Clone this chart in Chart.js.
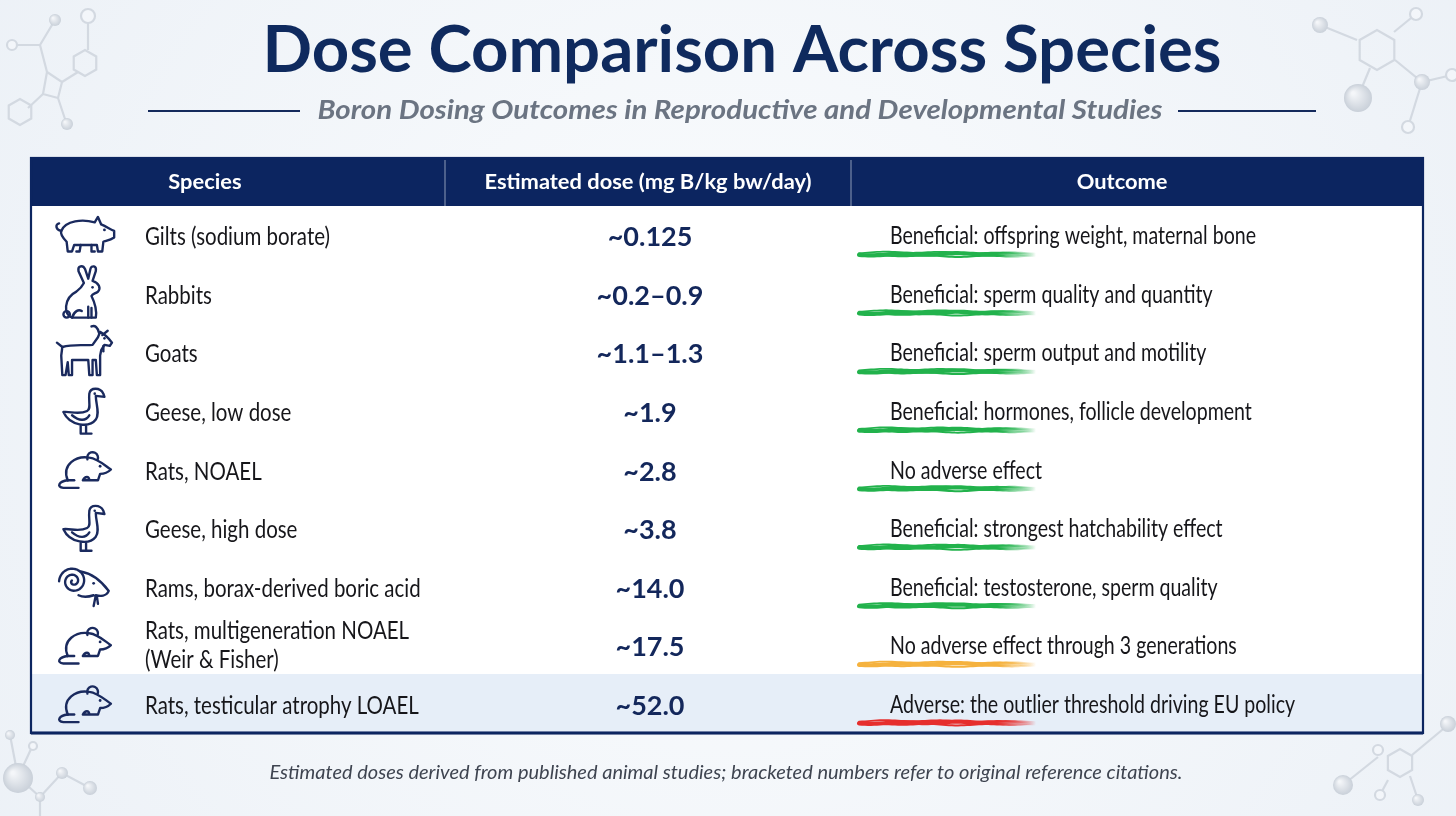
<!DOCTYPE html>
<html><head><meta charset="utf-8">
<script src="https://cdn.jsdelivr.net/npm/chart.js@4.4.1/dist/chart.umd.min.js"></script>
<style>html,body{margin:0;padding:0;background:#f3f6fa;overflow:hidden}canvas{display:block}</style>
</head><body>
<canvas id="c" width="1456" height="816"></canvas>
<script>
// ---------- DATA ----------
const title = "Dose Comparison Across Species";
const subtitle = "Boron Dosing Outcomes in Reproductive and Developmental Studies";
const footnote = "Estimated doses derived from published animal studies; bracketed numbers refer to original reference citations.";
const columnHeaders = ["Species", "Estimated dose (mg B/kg bw/day)", "Outcome"];
const species = [
  "Gilts (sodium borate)",
  "Rabbits",
  "Goats",
  "Geese, low dose",
  "Rats, NOAEL",
  "Geese, high dose",
  "Rams, borax-derived boric acid",
  ["Rats, multigeneration NOAEL", "(Weir & Fisher)"],
  "Rats, testicular atrophy LOAEL"
];
const animalIcons = ["pig", "rabbit", "goat", "goose", "rat", "goose", "ram", "rat", "rat"];
const doses = ["~0.125", "~0.2\u20130.9", "~1.1\u20131.3", "~1.9", "~2.8", "~3.8", "~14.0", "~17.5", "~52.0"];
const outcomes = [
  "Beneficial: offspring weight, maternal bone",
  "Beneficial: sperm quality and quantity",
  "Beneficial: sperm output and motility",
  "Beneficial: hormones, follicle development",
  "No adverse effect",
  "Beneficial: strongest hatchability effect",
  "Beneficial: testosterone, sperm quality",
  "No adverse effect through 3 generations",
  "Adverse: the outlier threshold driving EU policy"
];
const outcomeClass = ["beneficial", "beneficial", "beneficial", "beneficial", "none", "beneficial", "beneficial", "caution", "adverse"];

// ---------- LAYOUT / STYLE ----------
const TABLE_W = 1392;
const COL_EDGES = [0, 414, 820, TABLE_W];
const HEADER_H = 48;
const NAVY = '#0c2560';
const INK = '#16161a';
const ICON_INK = '#1a2a5e';
const CLASS_COLOR = { beneficial: '#22b24c', none: '#22b24c', caution: '#f5b23e', adverse: '#e62e2d' };
const FONT = 'Lato, "Noto Sans", sans-serif';

function hexToRgba(h, a) {
  const n = parseInt(h.slice(1), 16);
  return `rgba(${(n >> 16) & 255},${(n >> 8) & 255},${n & 255},${a})`;
}
function fitText(ctx, text, x, y, font, color, sx, align) {
  ctx.save();
  ctx.font = font; ctx.fillStyle = color; ctx.textBaseline = 'alphabetic'; ctx.textAlign = 'left';
  const w = ctx.measureText(text).width * sx;
  const left = align === 'center' ? x - w / 2 : (align === 'right' ? x - w : x);
  ctx.translate(left, y); ctx.scale(sx, 1);
  ctx.fillText(text, 0, 0);
  ctx.restore();
}
function factorFor(ctx, font, text, target) {
  ctx.save(); ctx.font = font; const w = ctx.measureText(text).width; ctx.restore();
  return target / w;
}

// ---------- decorative molecules ----------
function ball(ctx, x, y, r) {
  const g = ctx.createRadialGradient(x - r * 0.35, y - r * 0.35, r * 0.1, x, y, r);
  g.addColorStop(0, '#f4f6f9'); g.addColorStop(1, '#c9d0d9');
  ctx.fillStyle = g; ctx.beginPath(); ctx.arc(x, y, r, 0, Math.PI * 2); ctx.fill();
}
function ring(ctx, x, y, r) {
  ctx.fillStyle = '#f3f6fa'; ctx.beginPath(); ctx.arc(x, y, r, 0, Math.PI * 2); ctx.fill(); ctx.stroke();
}
function bonds(ctx, pts) {
  ctx.beginPath(); ctx.moveTo(pts[0][0], pts[0][1]);
  for (let i = 1; i < pts.length; i++) ctx.lineTo(pts[i][0], pts[i][1]);
  ctx.stroke();
}
function hex(ctx, cx, cy, r, rot) {
  ctx.beginPath();
  for (let i = 0; i < 6; i++) {
    const a = rot + i * Math.PI / 3;
    const px = cx + r * Math.cos(a), py = cy + r * Math.sin(a);
    i ? ctx.lineTo(px, py) : ctx.moveTo(px, py);
  }
  ctx.closePath(); ctx.stroke();
}
function drawMolecules(ctx) {
  ctx.save();
  ctx.strokeStyle = '#d3d9e1'; ctx.lineWidth = 2.2;
  // top-left
  bonds(ctx, [[12, 45], [40, 45], [55, 20]]);
  bonds(ctx, [[40, 45], [47, 72], [62, 82], [58, 98], [43, 94], [47, 72]]);
  bonds(ctx, [[62, 82], [78, 72]]);
  bonds(ctx, [[58, 98], [66, 122]]);
  bonds(ctx, [[43, 94], [28, 108]]);
  bonds(ctx, [[88, 18], [88, 50]]);
  hex(ctx, 85, 63, 13, Math.PI / 2);
  hex(ctx, 20, 112, 13, Math.PI / 2);
  ring(ctx, 12, 45, 5); ball(ctx, 55, 20, 6); ring(ctx, 88, 16, 7); ball(ctx, 67, 124, 6);
  // top-right
  bonds(ctx, [[1320, 25], [1357, 40]]);
  hex(ctx, 1377, 50, 20, Math.PI / 6);
  bonds(ctx, [[1394, 32], [1416, 14]]);
  bonds(ctx, [[1395, 60], [1422, 82], [1452, 75]]);
  bonds(ctx, [[1422, 82], [1408, 127]]);
  bonds(ctx, [[1370, 68], [1358, 97]]);
  ball(ctx, 1320, 25, 8); ring(ctx, 1416, 14, 6); ball(ctx, 1422, 82, 8); ring(ctx, 1408, 127, 6); ring(ctx, 1452, 75, 6);
  ball(ctx, 1358, 98, 14);
  // bottom-left
  bonds(ctx, [[10, 735], [18, 777], [32, 747]]);
  bonds(ctx, [[18, 777], [40, 797], [62, 773], [90, 788]]);
  bonds(ctx, [[40, 797], [40, 816]]);
  ball(ctx, 10, 735, 5); ring(ctx, 33, 746, 4); ball(ctx, 18, 778, 15); ball(ctx, 62, 773, 6); ball(ctx, 40, 797, 5); ball(ctx, 90, 788, 7);
  // bottom-right
  bonds(ctx, [[1343, 785], [1378, 757]]);
  hex(ctx, 1400, 763, 14, Math.PI / 6);
  bonds(ctx, [[1412, 755], [1448, 725]]);
  bonds(ctx, [[1410, 776], [1418, 800]]);
  bonds(ctx, [[1388, 780], [1380, 795]]);
  ball(ctx, 1343, 785, 10); ring(ctx, 1378, 750, 5); ball(ctx, 1448, 724, 8); ball(ctx, 1418, 800, 6); ring(ctx, 1380, 795, 5);
  ctx.restore();
}

// ---------- icons ----------
function drawIcon(ctx, kind, cx, cy) {
  ctx.save();
  ctx.translate(cx, cy);
  ctx.scale(1.08, 1.08);
  ctx.strokeStyle = ICON_INK; ctx.fillStyle = ICON_INK;
  ctx.lineWidth = 2.2; ctx.lineJoin = 'round'; ctx.lineCap = 'round';
  const P = () => ctx.beginPath();
  const dot = (x, y, r) => { P(); ctx.arc(x, y, r, 0, Math.PI * 2); ctx.fill(); };
  if (kind === 'pig') {
    P();
    ctx.moveTo(-22, -4);
    ctx.bezierCurveTo(-18, -14, -2, -15, 9, -12);
    ctx.lineTo(12, -17); ctx.lineTo(15, -10);
    ctx.bezierCurveTo(20, -8, 24, -5, 27, -4);
    ctx.lineTo(27, 2);
    ctx.bezierCurveTo(24, 4, 20, 5, 17, 6);
    ctx.lineTo(16, 15); ctx.lineTo(12, 15); ctx.lineTo(11, 9);
    ctx.lineTo(-10, 9);
    ctx.lineTo(-12, 15); ctx.lineTo(-16, 15); ctx.lineTo(-17, 6);
    ctx.bezierCurveTo(-21, 2, -23, -1, -22, -4);
    ctx.stroke();
    P(); ctx.moveTo(-22, -4); ctx.bezierCurveTo(-27, -5, -28, -10, -24, -11); ctx.stroke();
    P(); ctx.moveTo(6, 9); ctx.lineTo(6, 15); ctx.lineTo(9, 15); ctx.stroke();
    P(); ctx.moveTo(-4, 9); ctx.lineTo(-5, 15); ctx.lineTo(-8, 15); ctx.stroke();
    dot(18, -5, 1.3);
  } else if (kind === 'rabbit') {
    P();
    ctx.moveTo(-12, 22);
    ctx.bezierCurveTo(-20, 20, -20, 4, -8, -2);
    ctx.bezierCurveTo(-4, -5, -2, -8, -1, -10);
    ctx.lineTo(-6, -21); ctx.bezierCurveTo(-7, -26, -2, -27, 0, -23); ctx.lineTo(3, -14);
    ctx.lineTo(5, -23); ctx.bezierCurveTo(6, -27, 11, -26, 10, -21); ctx.lineTo(7, -12);
    ctx.bezierCurveTo(13, -10, 15, -5, 12, -2);
    ctx.bezierCurveTo(9, 0, 7, 0, 6, 2);
    ctx.bezierCurveTo(9, 8, 11, 16, 10, 22);
    ctx.lineTo(-12, 22);
    ctx.stroke();
    P(); ctx.moveTo(3, 12); ctx.lineTo(3, 22); ctx.moveTo(6, 13); ctx.lineTo(6, 22); ctx.stroke();
    P(); ctx.moveTo(-12, 22); ctx.bezierCurveTo(-10, 16, -6, 14, -3, 16); ctx.stroke();
    P(); ctx.arc(-17, 19, 3, 0, Math.PI * 2); ctx.stroke();
    dot(7, -6, 1.2);
  } else if (kind === 'goat') {
    P();
    ctx.moveTo(-21, -5);
    ctx.bezierCurveTo(-10, -8, 0, -6, 7, -7);
    ctx.lineTo(12, -14);
    ctx.lineTo(14, -19);
    ctx.bezierCurveTo(18, -17, 22, -13, 25, -9);
    ctx.lineTo(23, -6);
    ctx.lineTo(18, -7);
    ctx.lineTo(15, -2);
    ctx.lineTo(14, 3);
    ctx.lineTo(14, 21); ctx.lineTo(11, 21); ctx.lineTo(10, 7);
    ctx.lineTo(7, 7); ctx.lineTo(7, 21); ctx.lineTo(4, 21); ctx.lineTo(3, 7);
    ctx.lineTo(-12, 7);
    ctx.lineTo(-12, 21); ctx.lineTo(-15, 21); ctx.lineTo(-16, 9);
    ctx.lineTo(-18, 21); ctx.lineTo(-21, 21); ctx.lineTo(-22, 3);
    ctx.closePath();
    ctx.stroke();
    P(); ctx.moveTo(-21, -5); ctx.lineTo(-26, -9); ctx.stroke();
    P(); ctx.moveTo(13, -18); ctx.quadraticCurveTo(11, -26, 6, -24); ctx.stroke();
    P(); ctx.moveTo(16, -16); ctx.lineTo(21, -20); ctx.stroke();
    P(); ctx.moveTo(17, -6); ctx.lineTo(17, -1); ctx.stroke();
    dot(18, -13, 1.2);
  } else if (kind === 'goose') {
    P();
    ctx.moveTo(-20, 1);
    ctx.bezierCurveTo(-14, 14, 4, 16, 10, 8);
    ctx.bezierCurveTo(14, 2, 10, -6, 10, -14);
    ctx.lineTo(18, -13); ctx.lineTo(17, -16);
    ctx.bezierCurveTo(14, -22, 5, -22, 4, -16);
    ctx.bezierCurveTo(3, -8, 6, -2, 2, 0);
    ctx.bezierCurveTo(-6, 4, -14, 0, -20, 1);
    ctx.stroke();
    P(); ctx.moveTo(-12, 4); ctx.bezierCurveTo(-5, 10, 1, 9, 4, 4); ctx.stroke();
    P(); ctx.moveTo(1, 14); ctx.lineTo(1, 21); ctx.lineTo(6, 21); ctx.moveTo(-4, 14); ctx.lineTo(-4, 21); ctx.lineTo(0, 21); ctx.stroke();
    dot(9, -16, 1.2);
  } else if (kind === 'rat') {
    P();
    ctx.moveTo(-16, 10);
    ctx.bezierCurveTo(-22, -5, -8, -13, 4, -11);
    ctx.bezierCurveTo(12, -10, 18, -4, 24, 0);
    ctx.bezierCurveTo(20, 4, 16, 4, 14, 4);
    ctx.lineTo(12, 10); ctx.lineTo(8, 10);
    ctx.lineTo(-2, 10);
    ctx.bezierCurveTo(0, 6, 4, 6, 4, 10);
    ctx.stroke();
    P(); ctx.moveTo(-16, 10); ctx.lineTo(-10, 10); ctx.stroke();
    P(); ctx.moveTo(-16, 10); ctx.bezierCurveTo(-24, 11, -27, 16, -20, 17); ctx.lineTo(-6, 17); ctx.stroke();
    P(); ctx.arc(7, -11, 5, Math.PI * 0.9, Math.PI * 2.1); ctx.stroke();
    dot(14, -3, 1.3);
  } else if (kind === 'ram') {
    P();
    let first = true;
    for (let t = 0; t <= Math.PI * 4.2; t += 0.15) {
      const r = 13 - t * 0.9;
      const x = -11 + r * Math.cos(t + Math.PI), y = -5 + r * Math.sin(t + Math.PI);
      first ? ctx.moveTo(x, y) : ctx.lineTo(x, y); first = false;
    }
    ctx.stroke();
    P();
    ctx.moveTo(-4, -14);
    ctx.bezierCurveTo(8, -12, 16, -4, 22, 4);
    ctx.bezierCurveTo(20, 9, 14, 9, 10, 8);
    ctx.lineTo(8, 18);
    ctx.moveTo(11, 9); ctx.lineTo(12, 16);
    ctx.moveTo(8, 8); ctx.bezierCurveTo(2, 10, -2, 10, -6, 8);
    ctx.stroke();
    dot(8, -3, 1.3);
  }
  ctx.restore();
}

function brush(ctx, x0, x1, y, color) {
  ctx.save();
  const g = ctx.createLinearGradient(x0, 0, x1, 0);
  g.addColorStop(0, color); g.addColorStop(0.78, color); g.addColorStop(1, hexToRgba(color, 0));
  ctx.strokeStyle = g; ctx.lineCap = 'round';
  const passes = [[0, 4.2, 0], [-1.6, 1.8, 1.7], [1.6, 2, 3.1]];
  for (const [dy, w, ph] of passes) {
    ctx.lineWidth = w; ctx.beginPath();
    for (let x = x0; x <= x1; x += 3) {
      const yy = y + dy + Math.sin(x * 0.11 + ph) * 0.6 + Math.sin(x * 0.031 + ph) * 0.5;
      x === x0 ? ctx.moveTo(x, yy) : ctx.lineTo(x, yy);
    }
    ctx.stroke();
  }
  ctx.restore();
}

// ---------- plugin ----------
const tablePlugin = {
  id: 'tablePlugin',
  beforeDraw(chart) {
    const ctx = chart.ctx, W = chart.width, H = chart.height;
    ctx.save();
    const g = ctx.createRadialGradient(W / 2, H / 2, 100, W / 2, H / 2, W * 0.65);
    g.addColorStop(0, '#f9fbfd'); g.addColorStop(1, '#ebf0f6');
    ctx.fillStyle = g; ctx.fillRect(0, 0, W, H);
    ctx.restore();
    drawMolecules(ctx);
    fitText(ctx, title, 742, 72, `bold 65px ${FONT}`, '#0f2a5e', factorFor(ctx, `bold 65px ${FONT}`, title, 959), 'center');
    const sf = `italic bold 27px ${FONT}`;
    fitText(ctx, subtitle, 740, 119, sf, '#6b7482', factorFor(ctx, sf, subtitle, 845), 'center');
    ctx.save(); ctx.strokeStyle = '#142a5c'; ctx.lineWidth = 2;
    ctx.beginPath(); ctx.moveTo(148, 111); ctx.lineTo(300, 111); ctx.moveTo(1178, 111); ctx.lineTo(1316, 111); ctx.stroke();
    ctx.restore();
    const ff = `italic 20px ${FONT}`;
    fitText(ctx, footnote, 726, 779, ff, '#3e4450', factorFor(ctx, ff, footnote, 913), 'center');
  },
  afterDraw(chart) {
    const ctx = chart.ctx, xs = chart.scales.x, ys = chart.scales.y, ca = chart.chartArea;
    const colPx = COL_EDGES.map(v => xs.getPixelForValue(v));
    const top = ca.top - HEADER_H;
    ctx.save();
    ctx.fillStyle = NAVY; ctx.fillRect(colPx[0], top, colPx[3] - colPx[0], HEADER_H);
    ctx.strokeStyle = 'rgba(255,255,255,0.45)'; ctx.lineWidth = 1.2;
    ctx.beginPath();
    ctx.moveTo(colPx[1], top + 2); ctx.lineTo(colPx[1], ca.top);
    ctx.moveTo(colPx[2], top + 2); ctx.lineTo(colPx[2], ca.top);
    ctx.stroke();
    ctx.restore();
    const hf = `bold 21px ${FONT}`;
    const hs = factorFor(ctx, hf, columnHeaders[1], 327);
    const hpos = [0.42, 0.5, 0.474];
    columnHeaders.forEach((h, k) => {
      const cx = colPx[k] + (colPx[k + 1] - colPx[k]) * hpos[k];
      fitText(ctx, h, cx, top + 31, hf, '#ffffff', hs, 'center');
    });
    const bf = `24.5px ${FONT}`;
    const ss = factorFor(ctx, bf, species[0], 185);
    const os = factorFor(ctx, bf, outcomes[0], 366);
    const df = `bold 27px ${FONT}`;
    const ds = (factorFor(ctx, df, doses[0], 83) + factorFor(ctx, df, doses[1], 109)) / 2;
    species.forEach((sp, i) => {
      const cy = ys.getPixelForValue(i);
      drawIcon(ctx, animalIcons[i], colPx[0] + 54, cy);
      if (Array.isArray(sp)) {
        fitText(ctx, sp[0], colPx[0] + 114, cy - 6, bf, INK, ss, 'left');
        fitText(ctx, sp[1], colPx[0] + 114, cy + 23, bf, INK, ss, 'left');
      } else {
        fitText(ctx, sp, colPx[0] + 114, cy + 10, bf, INK, ss, 'left');
      }
      fitText(ctx, doses[i], (colPx[1] + colPx[2]) / 2 + 2, cy + 11, df, '#13275b', ds, 'center');
      fitText(ctx, outcomes[i], colPx[2] + 39, cy + 9, bf, INK, os, 'left');
      brush(ctx, colPx[2] + 8, colPx[2] + 185, cy + 19, CLASS_COLOR[outcomeClass[i]]);
    });
    ctx.save();
    ctx.strokeStyle = NAVY; ctx.lineWidth = 2.2;
    ctx.strokeRect(colPx[0], top, colPx[3] - colPx[0], ca.bottom - top);
    ctx.beginPath(); ctx.lineWidth = 3; ctx.moveTo(colPx[0], ca.bottom); ctx.lineTo(colPx[3], ca.bottom); ctx.stroke();
    ctx.restore();
  }
};

// ---------- chart ----------
new Chart(document.getElementById('c'), {
  type: 'bar',
  data: {
    labels: species.map(s => Array.isArray(s) ? s.join(' ') : s),
    datasets: [{
      label: 'rows',
      data: species.map(() => [COL_EDGES[0], COL_EDGES[COL_EDGES.length - 1]]),
      backgroundColor: outcomeClass.map(c => c === 'adverse' ? '#e6eef8' : '#ffffff'),
      barPercentage: 1, categoryPercentage: 1, borderWidth: 0, borderSkipped: false
    }]
  },
  options: {
    indexAxis: 'y',
    responsive: false, animation: false, devicePixelRatio: 1,
    layout: { padding: { left: 31, right: 33, top: 206, bottom: 83 } },
    events: [],
    scales: {
      x: {
        type: 'linear', min: COL_EDGES[0], max: COL_EDGES[COL_EDGES.length - 1], z: 1,
        afterBuildTicks: s => { s.ticks = COL_EDGES.map(v => ({ value: v })); },
        grid: { color: '#cdd2d9', lineWidth: 1.5, drawTicks: false },
        ticks: { display: false }, border: { display: false }
      },
      y: {
        type: 'category', offset: true, z: 1,
        grid: { offset: true, color: '#cdd2d9', lineWidth: 1.5, drawTicks: false },
        ticks: { display: false }, border: { display: false }
      }
    },
    plugins: { legend: { display: false }, tooltip: { enabled: false }, title: { display: false } }
  },
  plugins: [tablePlugin]
});
</script>
</body></html>
